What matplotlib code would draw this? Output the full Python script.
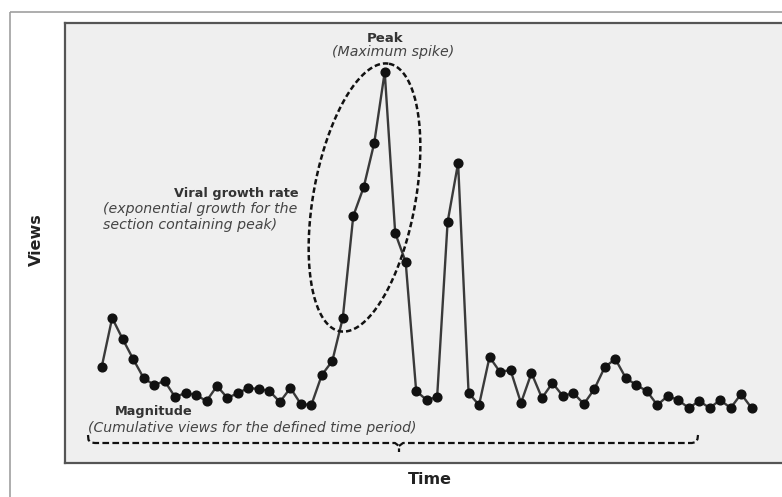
import numpy as np
import matplotlib
matplotlib.use("Agg")
from matplotlib import pyplot as plt
from matplotlib.patches import Rectangle
from matplotlib.transforms import Affine2D

# views per time step (arbitrary units)
views = [96, 145, 124, 104, 85, 78, 82, 66, 70, 68, 62, 77, 65, 70, 75, 74,
         72, 61, 75, 59, 58, 88, 102, 145, 247, 276, 320, 391, 230, 201, 72,
         63, 66, 241, 300, 70, 58, 106, 91, 93, 60, 90, 65, 80, 67, 70, 59,
         74, 96, 104, 85, 78, 72, 58, 67, 63, 55, 62, 55, 63, 55, 69, 55]
time = np.arange(len(views))

W, H = 782, 497
fig = plt.figure(figsize=(W / 100, H / 100), dpi=100)
fig.patch.set_facecolor("white")

# pixel coordinates (y down) for the overlay annotations
px = Affine2D().scale(1 / W, -1 / H).translate(0, 1) + fig.transFigure

# outer frame, cropped at right/bottom like the original screenshot
fig.patches.append(Rectangle((10, 12), 900, 600, transform=px, fill=False,
                             edgecolor="#a0a0a0", linewidth=1.2))

ax = fig.add_axes([65 / W, (H - 463) / H, (W - 65) / W, (463 - 23) / H])
ax.set_facecolor("#efefef")
ax.plot(time, views, color="#3a3a3a", linewidth=1.7, marker="o",
        markersize=6.3, markerfacecolor="#111111", markeredgecolor="#111111")
ax.set_xlim(-3.5, 64.9)
ax.set_ylim(0, 440)
ax.set_xticks([])
ax.set_yticks([])
for side in ("top", "left", "bottom"):
    ax.spines[side].set_color("#555555")
    ax.spines[side].set_linewidth(1.6)
ax.spines["right"].set_visible(False)

font = "DejaVu Sans"
bold = dict(fontweight="bold", family=font, color="#333333")
ital = dict(style="italic", family=font, color="#444444")

fig.text(36, 240, "Views", transform=px, rotation=90, ha="center",
         va="center", fontsize=11.5, fontweight="bold", family=font,
         color="#222222")
fig.text(430, 480, "Time", transform=px, ha="center", va="center",
         fontsize=11.5, fontweight="bold", family=font, color="#222222")

# peak label
fig.text(385, 39, "Peak", transform=px, ha="center", va="center",
         fontsize=9.5, **bold)
fig.text(393, 52, "(Maximum spike)", transform=px, ha="center",
         va="center", fontsize=10.2, **ital)

# growth rate label
fig.text(299, 193, "Viral growth rate", transform=px, ha="right",
         va="center", fontsize=9.3, **bold)
fig.text(103, 209, "(exponential growth for the", transform=px, ha="left",
         va="center", fontsize=10.2, **ital)
fig.text(103, 225, "section containing peak)", transform=px, ha="left",
         va="center", fontsize=10.2, **ital)

# magnitude label
fig.text(115, 412, "Magnitude", transform=px, ha="left", va="center",
         fontsize=9.3, **bold)
fig.text(88, 428, "(Cumulative views for the defined time period)",
         transform=px, ha="left", va="center", fontsize=10.1, **ital)

# dashed ellipse around the growth section
t = np.linspace(0, 2 * np.pi, 300)
tilt = np.radians(10.4)
a, b = 136, 51
cx, cy = 364.5, 197.5
ex = cx + a * np.cos(t) * np.sin(tilt) + b * np.sin(t) * np.cos(tilt)
ey = cy - a * np.cos(t) * np.cos(tilt) + b * np.sin(t) * np.sin(tilt)
fig.lines.append(plt.Line2D(ex, ey, transform=px, color="#111111",
                            linewidth=1.8, linestyle=(0, (2.2, 1.2))))

# dashed brace under the series
bx = [88, 88.5, 91, 95, 395, 399, 399]
by = [435, 440, 442.5, 443, 443, 446, 452]
fig.lines.append(plt.Line2D(bx, by, transform=px, color="#111111",
                            linewidth=1.6, linestyle=(0, (3, 1.5))))
bx2 = [399, 403, 692, 696, 697.5, 698]
by2 = [446, 443, 443, 442, 439, 435]
fig.lines.append(plt.Line2D(bx2, by2, transform=px, color="#111111",
                            linewidth=1.6, linestyle=(0, (3, 1.5))))

fig.savefig("out.png", dpi=100)
plt.close(fig)
